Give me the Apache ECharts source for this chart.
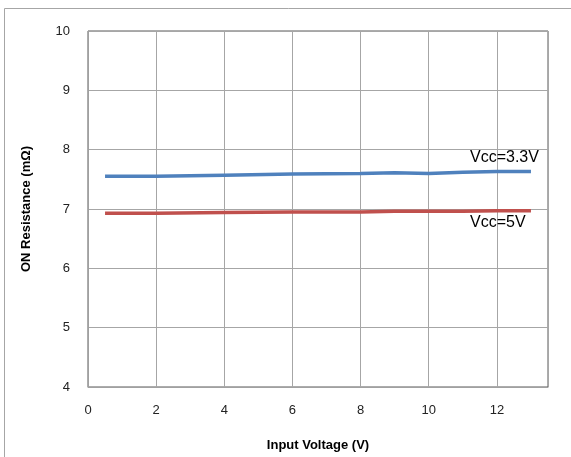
<!DOCTYPE html>
<html><head><meta charset="utf-8">
<script src="https://cdn.jsdelivr.net/npm/echarts@6/dist/echarts.min.js"></script>
<style>html,body{margin:0;padding:0;background:#fff}#c{width:571px;height:457px}</style>
</head><body><div id="c"></div>
<script>
const xVoltage = [0.5, 2, 4, 6, 8, 9, 10, 11, 12, 13];
const vcc33 = [7.55, 7.55, 7.57, 7.59, 7.60, 7.61, 7.60, 7.62, 7.63, 7.63];
const vcc5 = [6.93, 6.93, 6.94, 6.95, 6.95, 6.96, 6.96, 6.96, 6.97, 6.97];
const seriesNames = ['Vcc=3.3V', 'Vcc=5V'];
const xTitle = 'Input Voltage (V)';
const yTitle = 'ON Resistance (mΩ)';

const chart = echarts.init(document.getElementById('c'), null, {renderer: 'canvas'});
const font = 'Liberation Sans, Arial, sans-serif';
chart.setOption({
  animation: false,
  graphic: [{type: 'rect', shape: {x: 4.5, y: 8.5, width: 575, height: 460}, style: {fill: 'none', stroke: '#a6a6a6', lineWidth: 1}}],
  grid: {left: 88, top: 31, width: 460, height: 357, show: true, borderColor: '#595959', borderWidth: 1},
  xAxis: {
    type: 'value', min: 0, max: 13.5, interval: 2,
    name: xTitle, nameLocation: 'middle', nameGap: 52,
    nameTextStyle: {fontFamily: font, fontSize: 13, fontWeight: 'bold', color: '#000'},
    axisLine: {show: true, lineStyle: {color: '#a0a0a0'}},
    axisTick: {show: false},
    axisLabel: {fontFamily: font, fontSize: 13, color: '#222', margin: 17, showMaxLabel: false},
    splitLine: {show: true, lineStyle: {color: '#a6a6a6', width: 1}}
  },
  yAxis: {
    type: 'value', min: 4, max: 10, interval: 1,
    name: yTitle, nameLocation: 'middle', nameGap: 55,
    nameTextStyle: {fontFamily: font, fontSize: 13, fontWeight: 'bold', color: '#000'},
    axisLine: {show: true, lineStyle: {color: '#a0a0a0'}},
    axisTick: {show: false},
    axisLabel: {fontFamily: font, fontSize: 13, color: '#222', margin: 18},
    splitLine: {show: true, lineStyle: {color: '#a6a6a6', width: 1}}
  },
  series: [
    {name: seriesNames[0], type: 'line', data: xVoltage.map((x, i) => [x, vcc33[i]]), symbol: 'none',
     lineStyle: {color: '#4F81BD', width: 3.5},
     endLabel: {show: true, formatter: seriesNames[0], fontFamily: font, fontSize: 16, color: '#000', offset: [-69, -14]}},
    {name: seriesNames[1], type: 'line', data: xVoltage.map((x, i) => [x, vcc5[i]]), symbol: 'none',
     lineStyle: {color: '#C0504D', width: 3.5},
     endLabel: {show: true, formatter: seriesNames[1], fontFamily: font, fontSize: 16, color: '#000', offset: [-69, 12]}}
  ]
});
</script></body></html>
